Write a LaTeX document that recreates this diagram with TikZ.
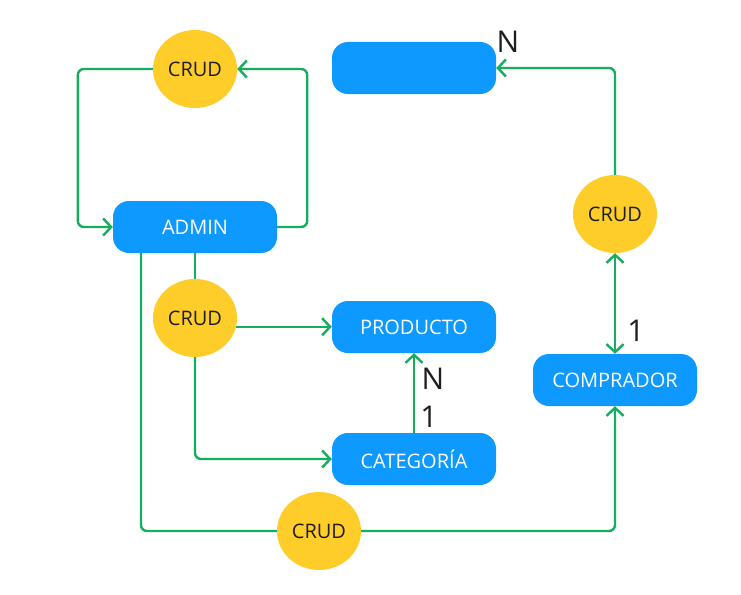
\documentclass[tikz,border=0pt]{standalone}
\usepackage{fontspec}
\setmainfont{Open Sans}
\usetikzlibrary{arrows.meta,shapes.geometric}

\definecolor{boxblue}{HTML}{0D99FF}
\definecolor{crudyellow}{HTML}{FFCD29}
\definecolor{linkgreen}{HTML}{14AE5C}
\definecolor{inkdark}{HTML}{1E1E1E}

\begin{document}
\begin{tikzpicture}[x=1pt,y=-1pt,
  entity/.style={fill=boxblue,rounded corners=16pt,minimum width=164pt,
    minimum height=52pt,inner sep=0pt,text=white,font=\fontsize{20}{22}\selectfont},
  crud/.style={ellipse,fill=crudyellow,minimum width=84pt,minimum height=78pt,
    inner sep=0pt,text=inkdark,font=\fontsize{20}{22}\selectfont},
  link/.style={draw=linkgreen,line width=2.4pt,rounded corners=6pt},
  tipped/.style={-{Straight Barb[length=8pt,width=17pt,line width=2.4pt]}},
  card/.style={inner sep=0pt,text=inkdark,font=\fontsize{30}{32}\selectfont}]
  \useasboundingbox[fill=white] (0,0) rectangle (741,594);

  % entities
  \node[entity] (admin) at (195,227) {ADMIN};
  \node[entity] (blank) at (414,68) {};
  \node[entity] (producto) at (414,327) {PRODUCTO};
  \node[entity] (categoria) at (414,459) {CATEGORÍA};
  \node[entity] (comprador) at (615,380) {COMPRADOR};

  % crud bubbles
  \node[crud] (crudTop) at (195,69) {CRUD};
  \node[crud] (crudMid) at (195,318) {CRUD};
  \node[crud] (crudRight) at (615,214) {CRUD};
  \node[crud] (crudLow) at (319,531) {CRUD};

  % admin loop
  \draw[link,tipped] (crudTop.west) -- ++(-75,0) |- (admin.west);
  \draw[link,tipped] (admin.east) -- ++(30,0) |- (crudTop.east);

  % admin -> producto / categoria
  \draw[link] (admin.south) -- (crudMid.north);
  \draw[link,tipped] (crudMid.-12) -- (crudMid.-12 -| producto.west);
  \draw[link,tipped] (crudMid.south) |- (categoria.west);
  \draw[link,tipped] (categoria.north) -- (producto.south);

  % admin -> comprador
  \draw[link] ([xshift=-54pt]admin.south) |- (crudLow.west);
  \draw[link,tipped] (crudLow.east) -| (comprador.south);

  % comprador -> blank
  \draw[link,{Straight Barb[length=8pt,width=17pt,line width=2.4pt]}-{Straight Barb[length=8pt,width=17pt,line width=2.4pt]}]
    (crudRight.south) -- (comprador.north);
  \draw[link,tipped] (crudRight.north) |- (blank.east);

  % cardinalities
  \node[card] (nBlank) at (508,42) {N};
  \node[card] (nProducto) at (433,379) {N};
  \node[card] (oneCategoria) at (429,417) {1};
  \node[card] (oneComprador) at (636,331) {1};
\end{tikzpicture}
\end{document}
